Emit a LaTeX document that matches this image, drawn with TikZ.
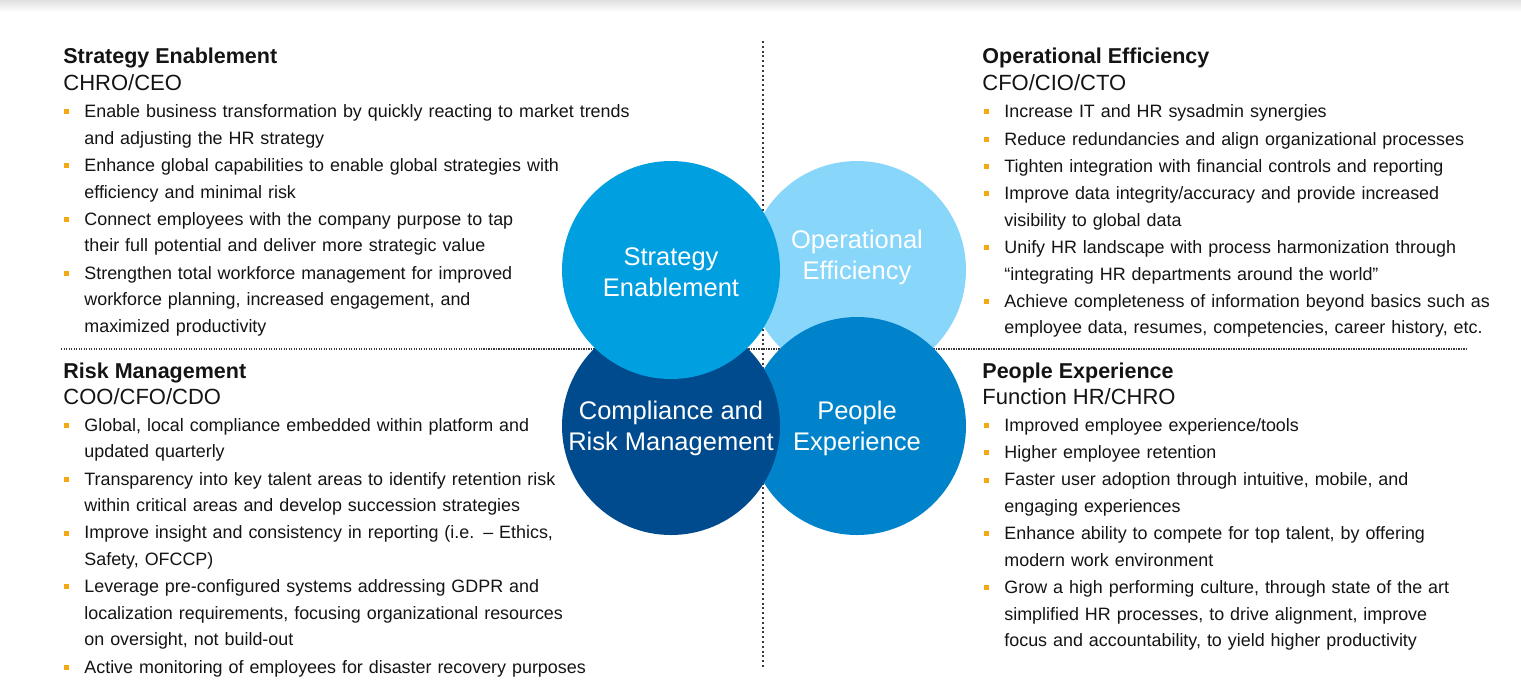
\documentclass[tikz,border=0pt]{standalone}
\usepackage{fontspec}
\setmainfont{Liberation Sans}
\usetikzlibrary{positioning}
\definecolor{Ink}{HTML}{141414}
\definecolor{Dots}{HTML}{3A3A3A}
\definecolor{Gold}{HTML}{F5A80F}
\definecolor{Azure}{HTML}{009FDF}
\definecolor{Sky}{HTML}{89D6FB}
\definecolor{Ocean}{HTML}{0083CB}
\definecolor{Navy}{HTML}{004A8E}
\newcommand\itemfont{\fontsize{8.95pt}{13.25pt}\selectfont}
\newcommand\headfont{\fontsize{10.75pt}{13pt}\selectfont\bfseries}
\newcommand\rolefont{\fontsize{11pt}{13pt}\selectfont}
\newcommand\bubfont{\fontsize{12.75pt}{15.5pt}\selectfont}

\begin{document}
\begin{tikzpicture}[x=0.5pt,y=-0.5pt,
    head/.style={font=\headfont,text=Ink,anchor=base west,inner sep=0pt},
    role/.style={font=\rolefont,text=Ink,anchor=base west,inner sep=0pt},
    item/.style={font=\itemfont,text=Ink,anchor=north west,inner sep=0pt,text width=300pt,
      align=left,execute at begin node=\strut,execute at end node=\strut},
    bub/.style={circle,minimum size=109pt,inner sep=0pt},
    bubtxt/.style={font=\bubfont,text=white,align=center,yshift=-1.25pt}]
        \useasboundingbox[fill=white] (0,0) rectangle (1521,698);
        \shade[top color=black!12,bottom color=white] (0,0) rectangle (1521,12);
        % quadrant rules
        \draw[Dots,line width=1pt,dash pattern=on 1pt off 1.4pt] (763,41)--(763,668);
        \draw[Dots,line width=0.65pt,dash pattern=on 0.6pt off 0.65pt] (61,349)--(1468,349);

        % top left
        \node[head] (seh) at (63,63) {Strategy Enablement};
        \node[role] (ser) at (63,90.5) {CHRO/CEO};
        \node[item] (se1) at (84,98.9) {Enable business transformation by quickly reacting to market trends\\and adjusting the HR strategy};
        \node[item] (se2) at (se1.south west) {Enhance global capabilities to enable global strategies with\\efficiency and minimal risk};
        \node[item] (se3) at (se2.south west) {Connect employees with the company purpose to tap\\their full potential and deliver more strategic value};
        \node[item] (se4) at (se3.south west) {Strengthen total workforce management for improved\\workforce planning, increased engagement, and\\maximized productivity};

        % top right
        \node[head] (oeh) at (982,63) {Operational Efficiency};
        \node[role] (oer) at (982,90.5) {CFO/CIO/CTO};
        \node[item] (oe1) at (1004,98.9) {Increase IT and HR sysadmin synergies};
        \node[item] (oe2) at (oe1.south west) {Reduce redundancies and align organizational processes};
        \node[item] (oe3) at (oe2.south west) {Tighten integration with financial controls and reporting};
        \node[item] (oe4) at (oe3.south west) {Improve data integrity/accuracy and provide increased\\visibility to global data};
        \node[item] (oe5) at (oe4.south west) {Unify HR landscape with process harmonization through\\“integrating HR departments around the world”};
        \node[item] (oe6) at (oe5.south west) {Achieve completeness of information beyond basics such as\\employee data, resumes, competencies, career history, etc.};

        % bottom left
        \node[head] (rmh) at (63,378) {Risk Management};
        \node[role] (rmr) at (63,404.5) {COO/CFO/CDO};
        \node[item] (rm1) at (84,412.4) {Global, local compliance embedded within platform and\\updated quarterly};
        \node[item] (rm2) at (rm1.south west) {Transparency into key talent areas to identify retention risk\\within critical areas and develop succession strategies};
        \node[item] (rm3) at (rm2.south west) {Improve insight and consistency in reporting (i.e. – Ethics,\\Safety, OFCCP)};
        \node[item] (rm4) at (rm3.south west) {Leverage pre-configured systems addressing GDPR and\\localization requirements, focusing organizational resources\\on oversight, not build-out};
        \node[item] (rm5) at (rm4.south west) {Active monitoring of employees for disaster recovery purposes};

        % bottom right
        \node[head] (pxh) at (982,378) {People Experience};
        \node[role] (pxr) at (982,404.5) {Function HR/CHRO};
        \node[item] (px1) at (1004,412.4) {Improved employee experience/tools};
        \node[item] (px2) at (px1.south west) {Higher employee retention};
        \node[item] (px3) at (px2.south west) {Faster user adoption through intuitive, mobile, and\\engaging experiences};
        \node[item] (px4) at (px3.south west) {Enhance ability to compete for top talent, by offering\\modern work environment};
        \node[item] (px5) at (px4.south west) {Grow a high performing culture, through state of the art\\simplified HR processes, to drive alignment, improve\\focus and accountability, to yield higher productivity};

        \foreach \n in {se1,se2,se3,se4,oe1,oe2,oe3,oe4,oe5,oe6,rm1,rm2,rm3,rm4,rm5,px1,px2,px3,px4,px5}
          \fill[Gold] ([shift={(-20,10.5)}]\n.north west) rectangle +(5,5);

        % circles
        \node[bub,fill=Sky,label={[bubtxt,yshift=7.5pt]center:{Operational\\Efficiency}}] (opc) at (857,270) {};
        \node[bub,fill=Ocean,label={[bubtxt]center:{People\\Experience}}] (pxc) at (857,426) {};
        \node[bub,fill=Navy,label={[bubtxt]center:{Compliance and\\Risk Management}}] (rmc) at (671,426) {};
        \node[bub,fill=Azure,label={[bubtxt]center:{Strategy\\Enablement}}] (sec) at (671,270) {};
\end{tikzpicture}
\end{document}
